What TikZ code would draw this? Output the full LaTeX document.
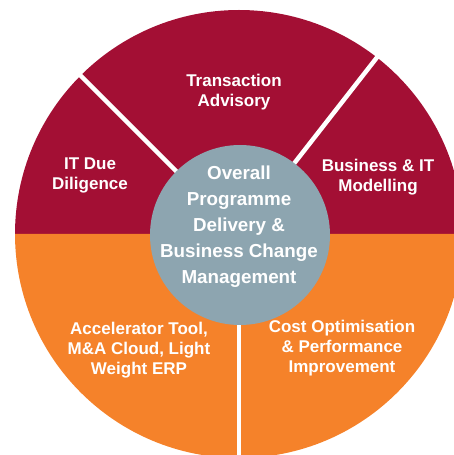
\documentclass[tikz,border=0pt]{standalone}
\usepackage{fontspec}
\setmainfont{Liberation Sans}
\usetikzlibrary{positioning}
\definecolor{wine}{HTML}{A30F34}
\definecolor{tangerine}{HTML}{F5822A}
\definecolor{slate}{HTML}{8DA5B0}

\begin{document}
\begin{tikzpicture}[x=1pt, y=1pt,
	sectortext/.style={text=white, align=center, font=\bfseries\fontsize{17}{20}\selectfont},
	hubtext/.style={text=white, align=center, font=\bfseries\fontsize{18.8}{26}\selectfont},
	hubdisc/.style={circle, fill=slate, minimum size=180pt, inner sep=0pt},
	divider/.style={white, line width=4.5pt}]
	\clip (0,0) rectangle (454,455);
	\coordinate (c) at (239,221);
	\fill[wine] (c) ++(0:224) arc (0:180:224) -- cycle;
	\fill[tangerine] (c) ++(180:224) arc (180:360:224) -- cycle;
	\path (c) ++(135:230) coordinate (ul);
	\path (c) ++(52:230) coordinate (ur);
	\path (c) ++(270:240) coordinate (lo);
	\draw[divider] (c) -- (ul);
	\draw[divider] (c) -- (ur);
	\draw[divider] (c) -- (lo);
	\node[hubdisc] (hub) at (240,220) {};
	\node[hubtext] (core) at (239,228) {Overall\\Programme\\Delivery \&\\Business Change\\Management};
	\node[sectortext] (deal) at (234,363) {Transaction\\Advisory};
	\node[sectortext] (dd) at (90,280) {IT Due\\Diligence};
	\node[sectortext] (model) at (378,278) {Business \& IT\\Modelling};
	\node[sectortext] (tools) at (139,105) {Accelerator Tool,\\M\&A Cloud, Light\\Weight ERP};
	\node[sectortext] (cost) at (342,107) {Cost Optimisation\\\& Performance\\Improvement};
\end{tikzpicture}
\end{document}
